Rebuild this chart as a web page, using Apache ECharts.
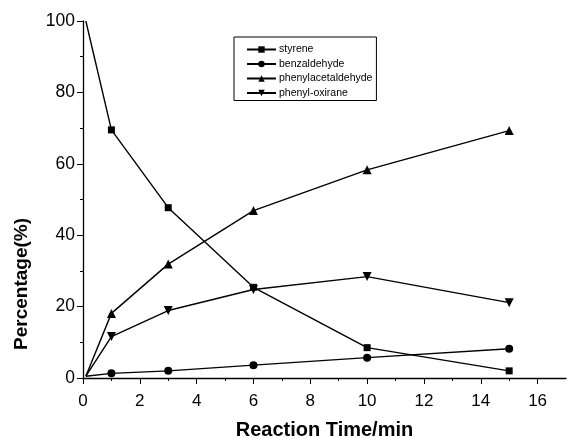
<!DOCTYPE html>
<html><head><meta charset="utf-8">
<script src="https://cdn.jsdelivr.net/npm/echarts@6/dist/echarts.min.js"></script>
<style>html,body{margin:0;padding:0;background:#fff}#c{width:567px;height:438px}</style>
</head><body><div id="c"></div>
<script>
const times = [0.1, 1, 3, 6, 10, 15];
const styrene = [100, 69.5, 47.7, 25.4, 8.5, 2.0];
const benzaldehyde = [0.5, 1.3, 2.0, 3.6, 5.7, 8.2];
const phenylacetaldehyde = [0.5, 18.1, 31.9, 46.9, 58.3, 69.3];
const phenylOxirane = [0.5, 11.6, 18.9, 24.8, 28.4, 21.1];
const xTicks = [0, 2, 4, 6, 8, 10, 12, 14, 16];
const xMinorTicks = [1, 3, 5, 7, 9, 11, 13, 15];
const yTicks = [0, 20, 40, 60, 80, 100];

const font = 'Liberation Sans, Arial, sans-serif';
function mk(name, vals, symbol, size) {
  return {
    name, type: 'line', symbol, symbolSize: size,
    data: times.map((t, i) => i === 0 ? {value: [t, vals[i]], symbolSize: 0} : [t, vals[i]]),
    lineStyle: {color: '#000', width: 1.4},
    itemStyle: {color: '#000'},
    animation: false
  };
}
const chart = echarts.init(document.getElementById('c'));
chart.setOption({
  animation: false,
  grid: {left: 83, right: 1, top: 21, bottom: 60, containLabel: false, outerBoundsMode: 'none'},
  legend: {
    orient: 'vertical', left: 234, top: 37, padding: [7, 4, 2, 12],
    borderColor: '#000', borderWidth: 1, itemGap: 3.5, itemWidth: 29, itemHeight: 8,
    textStyle: {fontFamily: font, fontSize: 10.5, color: '#000', padding: [0, 0, 0, -2]},
    data: ['styrene', 'benzaldehyde', 'phenylacetaldehyde', 'phenyl-oxirane']
  },
  xAxis: [{
    type: 'value', min: 0, max: 17, interval: 2,
    splitLine: {show: false},
    axisLine: {lineStyle: {color: '#000', width: 1.3}},
    axisTick: {show: true, length: 6, lineStyle: {color: '#000'}, customValues: xTicks},
    axisLabel: {customValues: xTicks, fontFamily: font, fontSize: 17, color: '#000', margin: 15},
    name: 'Reaction Time/min', nameLocation: 'middle', nameGap: 42,
    nameTextStyle: {fontFamily: font, fontSize: 20, fontWeight: 'bold', color: '#000'}
  }, {
    type: 'value', min: 0, max: 17, position: 'bottom',
    splitLine: {show: false},
    axisLine: {show: false},
    axisTick: {show: true, length: 3, lineStyle: {color: '#000'}, customValues: xMinorTicks},
    axisLabel: {show: false}
  }],
  yAxis: {
    type: 'value', min: 0, max: 100, interval: 20,
    splitLine: {show: false},
    axisLine: {show: true, lineStyle: {color: '#000', width: 1.3}},
    axisTick: {show: true, length: 6, lineStyle: {color: '#000'}},
    minorTick: {show: true, splitNumber: 2, length: 3, lineStyle: {color: '#000'}},
    axisLabel: {fontFamily: font, fontSize: 17.5, color: '#000', margin: 8,
      customValues: yTicks}
  },
  graphic: [{
    type: 'text', left: 12, top: 218, rotation: Math.PI / 2,
    style: {text: 'Percentage(%)', font: 'bold 19px ' + font, fill: '#000'}
  }],
  series: [
    mk('styrene', styrene, 'rect', 7),
    mk('benzaldehyde', benzaldehyde, 'circle', 8),
    mk('phenylacetaldehyde', phenylacetaldehyde, 'triangle', 9),
    Object.assign(mk('phenyl-oxirane', phenylOxirane, 'triangle', 9), {symbolRotate: 180})
  ]
});
</script></body></html>
